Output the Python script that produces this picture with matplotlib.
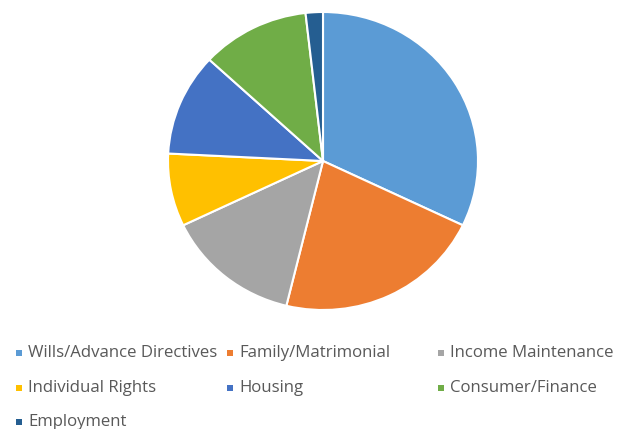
import matplotlib
matplotlib.use("Agg")
import matplotlib.pyplot as plt
from matplotlib.patches import Rectangle

categories = ["Wills/Advance Directives", "Family/Matrimonial", "Income Maintenance",
              "Individual Rights", "Housing", "Consumer/Finance", "Employment"]
values = [32.1, 21.7, 14.1, 7.9, 11.1, 11.3, 1.8]
colors = ["#5B9BD5", "#ED7D31", "#A5A5A5", "#FFC000", "#4472C4", "#70AD47", "#255E91"]

W, H = 617, 429
fig = plt.figure(figsize=(W / 100, H / 100), dpi=100)
fig.patch.set_facecolor("white")

cx, cy, rx, ry = 323, 161, 155, 149
ax = fig.add_axes([(cx - rx) / W, (H - cy - ry) / H, 2 * rx / W, 2 * ry / H])
ax.pie(values, colors=colors, startangle=90, counterclock=False,
       wedgeprops=dict(edgecolor="white", linewidth=1.5))
ax.set_aspect("auto")
ax.set_xlim(-1.0, 1.0)
ax.set_ylim(-1.0, 1.0)
ax.axis("off")

# legend, row-major in 3 columns
col_x = [16, 227, 438]
row_y = [353, 388, 422]
for i, (lab, col) in enumerate(zip(categories, colors)):
    r, c = divmod(i, 3)
    mx, my = col_x[c], row_y[r]
    fig.add_artist(Rectangle((mx / W, (H - my - 3) / H), 6 / W, 6 / H,
                             transform=fig.transFigure, facecolor=col, edgecolor="none"))
    fig.text((mx + 12) / W, (H - my) / H, lab, fontsize=12.05, family="Open Sans",
             color="#595959", va="center", ha="left")

fig.savefig("out.png", dpi=100)
